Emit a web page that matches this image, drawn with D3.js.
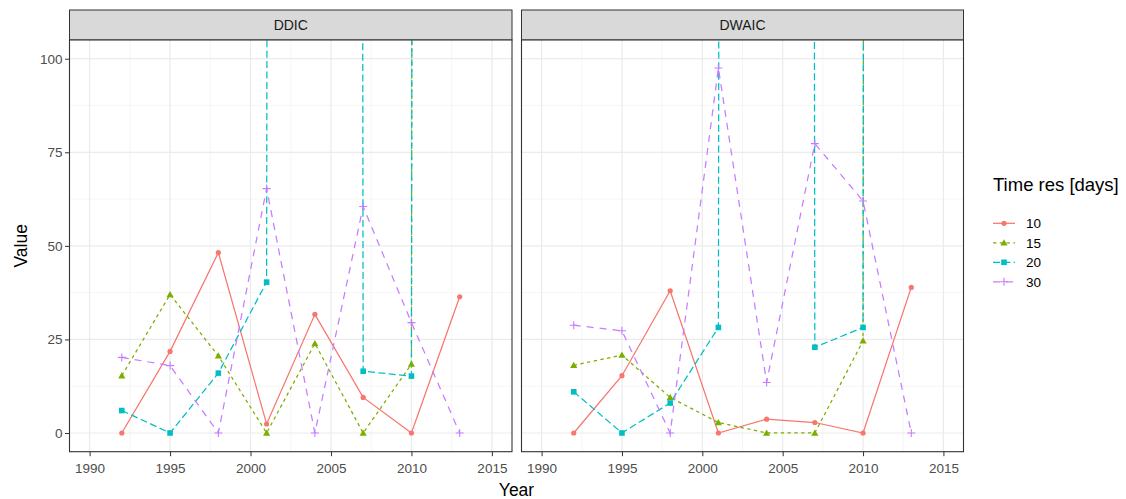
<!DOCTYPE html>
<html>
<head>
<meta charset="utf-8">
<script src="https://cdn.jsdelivr.net/npm/d3@7"></script>
<style>
  html, body { margin: 0; padding: 0; background: #fff; }
  svg { display: block; font-family: "Liberation Sans", Arial, sans-serif; }
</style>
</head>
<body>
<svg id="chart" width="1126" height="499"></svg>
<script>
// Sampling years shared by every series
const years = [1992, 1995, 1998, 2001, 2004, 2007, 2010, 2013];

// Panels (facets)
const panels = ["DDIC", "DWAIC"];

// Time resolution groups
const groups = ["10", "15", "20", "30"];

// Values per panel and group (very large values run off the top of the panel)
const ddic10 = [0, 21.8, 48.2, 2.4, 31.7, 9.5, 0, 36.4];
const ddic15 = [15.3, 37, 20.6, 0, 23.9, 0, 18.4, 10000];
const ddic20 = [6, 0, 16, 40.3, 10000, 16.5, 15.2, 10000];
const ddic30 = [20.2, 18, 0, 65.3, 0, 60.5, 29.5, 0];

const dwaic10 = [0, 15.3, 38, 0, 3.7, 2.8, 0, 38.9];
const dwaic15 = [18.1, 20.8, 9.5, 2.8, 0, 0, 24.6, 10000];
const dwaic20 = [11, 0, 8, 28.2, 10000, 22.9, 28.2, 10000];
const dwaic30 = [28.8, 27.3, 0, 97.5, 13.5, 77.3, 62, 0];

const xTicks = [1990, 1995, 2000, 2005, 2010, 2015];
const yTicks = [0, 25, 50, 75, 100];

const seriesByPanel = {
  DDIC: { "10": ddic10, "15": ddic15, "20": ddic20, "30": ddic30 },
  DWAIC: { "10": dwaic10, "15": dwaic15, "20": dwaic20, "30": dwaic30 }
};

// Styling per group
const colour = d3.scaleOrdinal().domain(groups).range(["#F8766D", "#7CAE00", "#00BFC4", "#C77CFF"]);
const dash = d3.scaleOrdinal().domain(groups).range(["", "3.4,3.4", "7,3.4", "7,6"]);
const shape = d3.scaleOrdinal().domain(groups).range(["circle", "triangle", "square", "plus"]);

const svg = d3.select("#chart");

const panelTop = 40, panelBottom = 451.7, stripTop = 10;
const panelX = { DDIC: [69.5, 512], DWAIC: [521.5, 963.5] };

const y = d3.scaleLinear().domain([-5, 105]).range([panelBottom, panelTop]);

function drawMarker(g, type, cx, cy, col) {
  if (type === "circle") {
    g.append("circle").attr("cx", cx).attr("cy", cy).attr("r", 2.6).attr("fill", col);
  } else if (type === "triangle") {
    const s = 3.6;
    g.append("path")
      .attr("d", `M${cx},${cy - s}L${cx + s},${cy + s * 0.75}L${cx - s},${cy + s * 0.75}Z`)
      .attr("fill", col);
  } else if (type === "square") {
    g.append("rect").attr("x", cx - 2.8).attr("y", cy - 2.8).attr("width", 5.6).attr("height", 5.6).attr("fill", col);
  } else {
    const s = 4;
    g.append("path")
      .attr("d", `M${cx - s},${cy}L${cx + s},${cy}M${cx},${cy - s}L${cx},${cy + s}`)
      .attr("stroke", col).attr("stroke-width", 1.1).attr("fill", "none");
  }
}

panels.forEach((name, pi) => {
  const [x0, x1] = panelX[name];
  const x = d3.scaleLinear().domain([1988.75, 2016.25]).range([x0, x1]);

  // strip
  svg.append("rect")
    .attr("x", x0).attr("y", stripTop).attr("width", x1 - x0).attr("height", panelTop - stripTop)
    .attr("fill", "#D9D9D9").attr("stroke", "#333333").attr("stroke-width", 1);
  svg.append("text")
    .attr("x", (x0 + x1) / 2).attr("y", (stripTop + panelTop) / 2 + 5)
    .attr("text-anchor", "middle").attr("font-size", 14).attr("fill", "#1A1A1A")
    .text(name);

  // panel background + grid
  svg.append("rect")
    .attr("x", x0).attr("y", panelTop).attr("width", x1 - x0).attr("height", panelBottom - panelTop)
    .attr("fill", "#fff");

  const grid = svg.append("g");
  const xMinor = d3.range(1987.5, 2017, 5);
  const yMinor = [-12.5, 12.5, 37.5, 62.5, 87.5];
  xMinor.forEach(v => {
    if (v > 1988.75 && v < 2016.25)
      grid.append("line").attr("x1", x(v)).attr("x2", x(v)).attr("y1", panelTop).attr("y2", panelBottom)
        .attr("stroke", "#F0F0F0").attr("stroke-width", 0.7);
  });
  yMinor.forEach(v => {
    if (v > -5 && v < 105)
      grid.append("line").attr("x1", x0).attr("x2", x1).attr("y1", y(v)).attr("y2", y(v))
        .attr("stroke", "#F0F0F0").attr("stroke-width", 0.7);
  });
  xTicks.forEach(v => {
    grid.append("line").attr("x1", x(v)).attr("x2", x(v)).attr("y1", panelTop).attr("y2", panelBottom)
      .attr("stroke", "#EBEBEB").attr("stroke-width", 1.2);
  });
  yTicks.forEach(v => {
    grid.append("line").attr("x1", x0).attr("x2", x1).attr("y1", y(v)).attr("y2", y(v))
      .attr("stroke", "#EBEBEB").attr("stroke-width", 1.2);
  });

  // clip
  const clipId = "clip-" + name;
  svg.append("clipPath").attr("id", clipId)
    .append("rect").attr("x", x0).attr("y", panelTop).attr("width", x1 - x0).attr("height", panelBottom - panelTop);

  const plot = svg.append("g").attr("clip-path", `url(#${clipId})`);
  const line = d3.line()
    .defined(d => d.v !== null)
    .x(d => x(d.year)).y(d => y(d.v));

  groups.forEach(gk => {
    const pts = years.map((yr, i) => ({ year: yr, v: seriesByPanel[name][gk][i] }));
    plot.append("path")
      .datum(pts)
      .attr("d", line)
      .attr("fill", "none")
      .attr("stroke", colour(gk))
      .attr("stroke-width", 1.25)
      .attr("stroke-dasharray", dash(gk));
  });
  groups.forEach(gk => {
    const mg = plot.append("g");
    years.forEach((yr, i) => {
      const v = seriesByPanel[name][gk][i];
      if (v !== null) drawMarker(mg, shape(gk), x(yr), y(v), colour(gk));
    });
  });

  // border
  svg.append("rect")
    .attr("x", x0).attr("y", panelTop).attr("width", x1 - x0).attr("height", panelBottom - panelTop)
    .attr("fill", "none").attr("stroke", "#333333").attr("stroke-width", 1.1);

  // x axis
  const xAxis = svg.append("g")
    .attr("transform", `translate(0,${panelBottom})`)
    .call(d3.axisBottom(x).tickValues(xTicks).tickFormat(d3.format("d")).tickSize(4.5).tickPadding(7));
  xAxis.select(".domain").remove();
  xAxis.selectAll(".tick line").attr("stroke", "#333333");
  xAxis.selectAll(".tick text").attr("fill", "#4D4D4D").attr("font-size", 13.5)
    .attr("font-family", "Liberation Sans, Arial, sans-serif");

  // y axis on the first panel only
  if (pi === 0) {
    const yAxis = svg.append("g")
      .attr("transform", `translate(${x0},0)`)
      .call(d3.axisLeft(y).tickValues(yTicks).tickSize(4.5).tickPadding(2.5));
    yAxis.select(".domain").remove();
    yAxis.selectAll(".tick line").attr("stroke", "#333333");
    yAxis.selectAll(".tick text").attr("fill", "#4D4D4D").attr("font-size", 13.5)
      .attr("font-family", "Liberation Sans, Arial, sans-serif");
  }
});

// axis titles
svg.append("text")
  .attr("x", (panelX.DDIC[0] + panelX.DWAIC[1]) / 2).attr("y", 496)
  .attr("text-anchor", "middle").attr("font-size", 17.5).attr("fill", "#000")
  .text("Year");
svg.append("text")
  .attr("transform", `translate(26.5,${(panelTop + panelBottom) / 2}) rotate(-90)`)
  .attr("text-anchor", "middle").attr("font-size", 17.5).attr("fill", "#000")
  .text("Value");

// legend
const legend = svg.append("g").attr("transform", "translate(993,0)");
legend.append("text")
  .attr("x", 0).attr("y", 191)
  .attr("font-size", 18.5).attr("fill", "#000")
  .text("Time res [days]");
groups.forEach((gk, i) => {
  const ky = 223.3 + i * 19.5;
  const kg = legend.append("g");
  kg.append("line")
    .attr("x1", 0).attr("x2", 22).attr("y1", ky).attr("y2", ky)
    .attr("stroke", colour(gk)).attr("stroke-width", 1.25)
    .attr("stroke-dasharray", dash(gk));
  drawMarker(kg, shape(gk), 11, ky, colour(gk));
  kg.append("text")
    .attr("x", 33).attr("y", ky + 5)
    .attr("font-size", 13.5).attr("fill", "#000")
    .text(gk);
});
</script>
</body>
</html>
